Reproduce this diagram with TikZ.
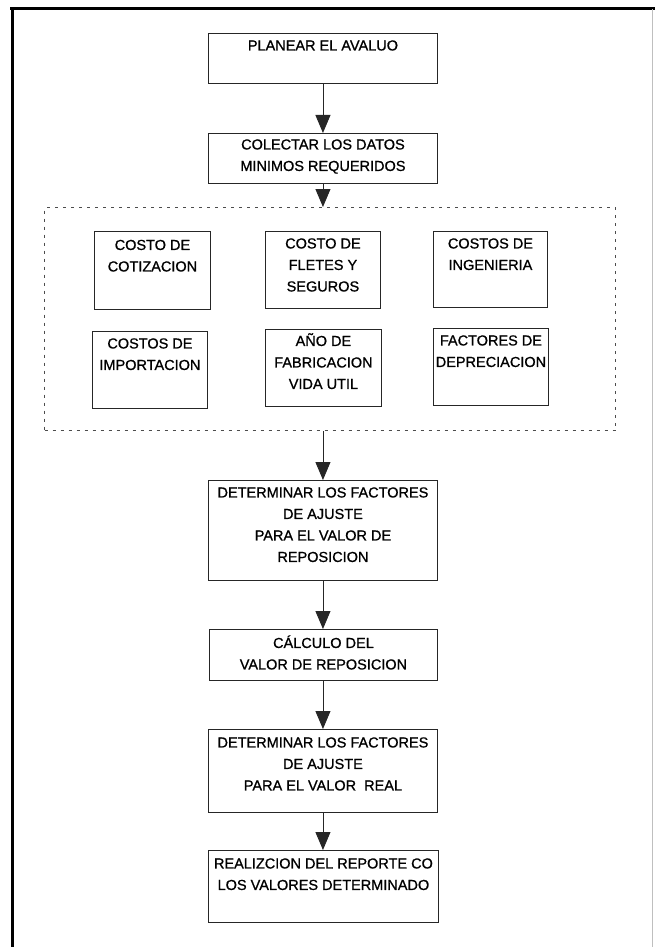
\documentclass[tikz,border=0pt]{standalone}
\usepackage{fontspec}
\setmainfont{Liberation Sans}
\newfontfamily\heavysans{Liberation Sans}[FakeBold=0.9]
\usetikzlibrary{arrows.meta}

% Box text: width, height, distance from top edge to first baseline, text
\newcommand\fctext[4]{\parbox[c][#2pt][t]{#1pt}{\centering\rule{0pt}{#3pt}#4}}

\begin{document}
\begin{tikzpicture}[x=1pt,y=-1pt,
  every node/.style={font=\heavysans\fontsize{14.5}{21.5}\selectfont},
  flowbox/.style={draw=black!85, line width=0.9pt, inner sep=0pt, anchor=north west},
  groupbox/.style={draw=black!70, line width=1pt, dash pattern=on 3pt off 5pt,
                   inner sep=0pt, anchor=north west},
  flowarrow/.style={draw=black!85, line width=0.9pt, -{Triangle[width=15pt,length=18pt]}},
  frameline/.style={line width=3pt, black}]

\useasboundingbox (0,0) rectangle (655,947);

% page frame
\draw[frameline] (10,9) -- (655,9);
\draw[frameline] (12,9) -- (12,947);
\draw[black!25, line width=0.6pt] (652,9) -- (652,947);

% main column
\node[flowbox] (plan) at (208,33) {\fctext{229}{50}{17}{PLANEAR EL AVALUO}};
\node[flowbox] (datos) at (208,133) {\fctext{229}{50}{16}{COLECTAR LOS DATOS\\MINIMOS REQUERIDOS}};

% group of required data
\node[groupbox, minimum width=571pt, minimum height=223pt] (grp) at (44,207) {};

\node[flowbox] (cotiz) at (94,231) {\fctext{116}{78}{18.5}{COSTO DE\\COTIZACION}};
\node[flowbox] (fletes) at (265,231) {\fctext{115}{77}{17}{COSTO DE\\FLETES Y\\SEGUROS}};
\node[flowbox] (ingen) at (433,231) {\fctext{114}{76}{17}{COSTOS DE\\INGENIERIA}};

\node[flowbox] (import) at (92,331) {\fctext{115}{77}{17}{COSTOS DE\\IMPORTACION}};
\node[flowbox] (fabric) at (265,329) {\fctext{116}{77}{16.5}{AÑO DE\\FABRICACION\\VIDA UTIL}};
\node[flowbox] (deprec) at (433,328) {\fctext{115}{77}{17}{FACTORES DE\\DEPRECIACION}};

\node[flowbox] (ajrepo) at (208,480) {\fctext{229}{100}{17}{DETERMINAR LOS FACTORES\\DE AJUSTE\\PARA EL VALOR DE\\REPOSICION}};
\node[flowbox] (calc) at (209,629) {\fctext{228}{51}{18.5}{CÁLCULO DEL\\VALOR DE REPOSICION}};
\node[flowbox] (ajreal) at (208,729) {\fctext{229}{83}{18}{DETERMINAR LOS FACTORES\\DE AJUSTE\\PARA EL VALOR\ \ REAL}};
\node[flowbox] (report) at (208,850) {\fctext{230}{72}{18}{REALIZCION DEL REPORTE CO\\LOS VALORES DETERMINADO}};

% connectors
\draw[flowarrow] (plan.south) -- (datos.north);
\draw[flowarrow] (datos.south) -- (datos.south |- grp.north);
\draw[flowarrow] (ajrepo.north |- grp.south) -- (ajrepo.north);
\draw[flowarrow] (ajrepo.south) -- (calc.north -| ajrepo.south);
\draw[flowarrow] (calc.south -| ajreal.north) -- (ajreal.north);
\draw[flowarrow] (ajreal.south) -- (report.north -| ajreal.south);

\end{tikzpicture}
\end{document}
